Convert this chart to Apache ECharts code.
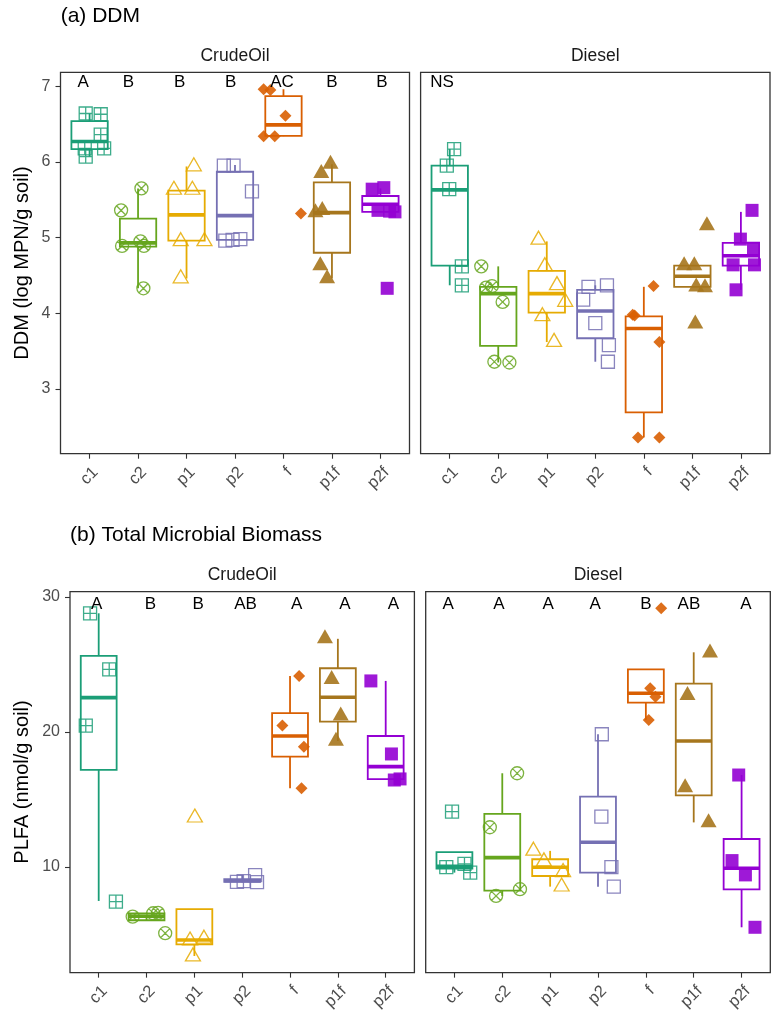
<!DOCTYPE html>
<html>
<head>
<meta charset="utf-8">
<script src="https://cdn.jsdelivr.net/npm/echarts@6/dist/echarts.min.js"></script>
<style>
html,body{margin:0;padding:0;background:#ffffff;}
#chart{width:774px;height:1013px;}
</style>
</head>
<body>
<div id="chart"></div>
<script>
// ---------------- DATA ----------------
const categories = ['c1', 'c2', 'p1', 'p2', 'f', 'p1f', 'p2f'];
const groupColors = ['#1B9E77', '#66A61E', '#E6AB02', '#7570B3', '#D95F02', '#A6761D', '#9400D3'];

const ddmTicks = [3, 4, 5, 6, 7];
const plfaTicks = [10, 20, 30];

// Box statistics per treatment: [lower whisker, Q1, median, Q3, upper whisker]
const ddmCrudeBox = [
  [6.07, 6.17, 6.27, 6.54, 6.64],
  [4.33, 4.88, 4.93, 5.25, 5.65],
  [4.46, 4.96, 5.30, 5.62, 5.94],
  [4.96, 4.97, 5.29, 5.87, 5.96],
  [6.34, 6.345, 6.49, 6.87, 6.96],
  [4.46, 4.80, 5.33, 5.73, 5.97],
  [5.34, 5.34, 5.44, 5.55, 5.65]
];
const ddmDieselBox = [
  [4.37, 4.63, 5.63, 5.95, 6.17],
  [3.35, 3.57, 4.26, 4.35, 4.62],
  [3.62, 4.01, 4.26, 4.56, 4.95],
  [3.36, 3.67, 4.03, 4.31, 4.37],
  [2.36, 2.69, 3.80, 3.96, 4.35],
  [4.35, 4.35, 4.49, 4.63, 4.63],
  [4.31, 4.63, 4.76, 4.93, 5.34]
];
const plfaCrudeBox = [
  [7.48, 17.19, 22.54, 25.63, 28.79],
  [6.32, 6.05, 6.35, 6.55, 6.60],
  [3.40, 4.27, 4.59, 6.87, 6.87],
  [8.85, 8.90, 8.98, 9.10, 9.40],
  [15.83, 18.17, 19.70, 21.39, 24.15],
  [19.33, 20.76, 22.57, 24.72, 26.90],
  [16.44, 16.50, 17.43, 19.70, 23.78]
];
const plfaDieselBox = [
  [9.58, 9.88, 10.05, 11.10, 11.10],
  [7.85, 8.24, 10.69, 13.93, 16.94],
  [8.54, 9.33, 9.98, 10.57, 11.19],
  [8.54, 9.58, 11.83, 15.21, 19.83],
  [20.89, 22.17, 22.87, 24.64, 24.64],
  [13.30, 15.30, 19.33, 23.58, 25.90],
  [5.53, 8.34, 9.90, 12.07, 16.81]
];

// Individual observations per treatment: [horizontal jitter (category units), value]
const ddmCrudePts = [
  [[-0.08, 6.64], [0.23, 6.63], [0.23, 6.36], [-0.10, 6.18], [0.30, 6.18], [-0.08, 6.07]],
  [[0.07, 5.65], [-0.35, 5.36], [-0.33, 4.89], [0.05, 4.95], [0.12, 4.89], [0.11, 4.33]],
  [[0.15, 5.94], [-0.26, 5.63], [0.12, 5.63], [-0.12, 4.95], [0.37, 4.95], [-0.12, 4.46]],
  [[-0.23, 5.95], [-0.03, 5.95], [0.35, 5.61], [-0.20, 4.96], [-0.05, 4.97], [0.11, 4.98]],
  [[-0.41, 6.96], [-0.27, 6.95], [0.04, 6.61], [-0.41, 6.34], [-0.18, 6.34], [0.36, 5.32]],
  [[-0.03, 5.97], [-0.22, 5.85], [-0.34, 5.33], [-0.20, 5.36], [-0.24, 4.63], [-0.10, 4.46]],
  [[-0.17, 5.64], [0.07, 5.66], [-0.05, 5.36], [0.19, 5.35], [0.30, 5.34], [0.14, 4.33]]
];
const ddmDieselPts = [
  [[0.09, 6.17], [-0.06, 5.95], [-0.01, 5.64], [0.25, 4.62], [0.25, 4.37]],
  [[-0.35, 4.62], [-0.13, 4.36], [-0.25, 4.34], [0.09, 4.15], [-0.08, 3.36], [0.23, 3.35]],
  [[-0.17, 4.97], [-0.04, 4.62], [0.21, 4.37], [0.38, 4.15], [-0.09, 3.96], [0.15, 3.62]],
  [[-0.14, 4.35], [0.24, 4.37], [-0.25, 4.18], [0.00, 3.87], [0.28, 3.58], [0.26, 3.36]],
  [[0.20, 4.36], [-0.23, 3.98], [-0.19, 3.97], [0.32, 3.62], [-0.12, 2.36], [0.32, 2.36]],
  [[0.30, 5.16], [-0.17, 4.63], [0.04, 4.63], [0.08, 4.35], [0.26, 4.34], [0.06, 3.86]],
  [[0.23, 5.36], [-0.01, 4.98], [0.26, 4.86], [-0.16, 4.64], [0.28, 4.64], [-0.10, 4.31]]
];
const plfaCrudePts = [
  [[-0.18, 28.79], [0.22, 24.64], [-0.27, 20.47], [0.36, 7.43]],
  [[-0.29, 6.32], [0.14, 6.57], [0.24, 6.60], [0.39, 5.09]],
  [[0.01, 13.65], [-0.09, 4.54], [0.20, 4.67], [-0.03, 3.36]],
  [[-0.11, 8.90], [0.03, 8.95], [0.27, 9.40], [0.31, 8.88]],
  [[0.19, 24.15], [-0.16, 20.47], [0.29, 18.91], [0.24, 15.83]],
  [[-0.27, 26.91], [-0.13, 23.90], [0.06, 21.19], [-0.04, 19.33]],
  [[-0.31, 23.78], [0.12, 18.37], [0.18, 16.44], [0.30, 16.52]]
];
const plfaDieselPts = [
  [[-0.05, 14.10], [-0.17, 9.98], [0.21, 10.22], [0.33, 9.58]],
  [[0.31, 16.94], [-0.26, 12.94], [-0.13, 7.85], [0.37, 8.35]],
  [[-0.35, 11.19], [-0.13, 10.40], [0.27, 9.61], [0.24, 8.54]],
  [[0.08, 19.83], [0.07, 13.73], [0.28, 9.98], [0.33, 8.54]],
  [[0.32, 29.16], [0.09, 23.24], [0.20, 22.61], [0.06, 20.89]],
  [[0.34, 25.87], [-0.13, 22.72], [-0.18, 15.87], [0.31, 13.28]],
  [[-0.06, 16.81], [-0.20, 10.47], [0.08, 9.41], [0.28, 5.53]]
];

// Significance letters and where they sit (category units / value units)
const ddmCrudeLetters = ['A', 'B', 'B', 'B', 'AC', 'B', 'B'];
const ddmCrudeLetterX = [-0.13, 0.80, 1.86, 2.91, 3.97, 5.00, 6.03];
const ddmDieselLetters = ['NS'];
const ddmDieselLetterX = [-0.16];
const plfaCrudeLetters = ['A', 'B', 'B', 'AB', 'A', 'A', 'A'];
const plfaCrudeLetterX = [-0.04, 1.08, 2.08, 3.07, 4.14, 5.15, 6.16];
const plfaDieselLetters = ['A', 'A', 'A', 'A', 'B', 'AB', 'A'];
const plfaDieselLetterX = [-0.13, 0.93, 1.96, 2.94, 4.00, 4.90, 6.09];
const ddmLetterY = 7.056;
const plfaLetterY = 29.48;

// ---------------- RENDERING ----------------
const FONT = '"Liberation Sans", Arial, Helvetica, sans-serif';
const INK = '#333333';

// point glyphs (ggplot shapes 12, 13, 2, 0, 18, 17, 15)
const TRI = 'path://M5,0L10,8.66L0,8.66Z';
const glyphs = [
  {symbol: 'path://M0,0L10,0L10,10L0,10Z M5,0L5,10 M0,5L10,5', size: [13, 13], filled: false, off: 0},
  {symbol: 'path://M10,5A5,5,0,1,1,0,5A5,5,0,1,1,10,5Z M1.46,1.46L8.54,8.54 M8.54,1.46L1.46,8.54', size: [13, 13], filled: false, off: 0},
  {symbol: TRI, size: [15, 13], filled: false, off: -13 / 6},
  {symbol: 'rect', size: [13, 13], filled: false, off: 0},
  {symbol: 'diamond', size: [12, 12], filled: true, off: 0},
  {symbol: TRI, size: [16, 14], filled: true, off: -14 / 6},
  {symbol: 'rect', size: [13, 13], filled: true, off: 0}
];

const panels = [
  {box: ddmCrudeBox, pts: ddmCrudePts, letters: ddmCrudeLetters, lx: ddmCrudeLetterX, ly: ddmLetterY,
   grid: {left: 60.5, top: 72.3, width: 349, height: 381.4}, yMin: 2.145, yMax: 7.184, ticks: ddmTicks, showY: true},
  {box: ddmDieselBox, pts: ddmDieselPts, letters: ddmDieselLetters, lx: ddmDieselLetterX, ly: ddmLetterY,
   grid: {left: 420.6, top: 72.3, width: 349.4, height: 381.4}, yMin: 2.145, yMax: 7.184, ticks: ddmTicks, showY: false},
  {box: plfaCrudeBox, pts: plfaCrudePts, letters: plfaCrudeLetters, lx: plfaCrudeLetterX, ly: plfaLetterY,
   grid: {left: 70, top: 591.7, width: 344.4, height: 381}, yMin: 2.17, yMax: 30.39, ticks: plfaTicks, showY: true},
  {box: plfaDieselBox, pts: plfaDieselPts, letters: plfaDieselLetters, lx: plfaDieselLetterX, ly: plfaLetterY,
   grid: {left: 425.7, top: 591.7, width: 344.6, height: 381}, yMin: 2.17, yMax: 30.39, ticks: plfaTicks, showY: false}
];

const catIdx = categories.map((c, i) => i);

const grids = [], xAxes = [], yAxes = [], series = [];
panels.forEach((p, gi) => {
  grids.push(Object.assign({show: true, borderColor: INK, borderWidth: 1.3, backgroundColor: 'transparent'}, p.grid));
  xAxes.push({
    type: 'value', gridIndex: gi, min: -0.6, max: 6.6, position: 'bottom',
    splitLine: {show: false}, axisLine: {show: false, onZero: false},
    axisTick: {show: true, customValues: catIdx, length: 5, lineStyle: {color: INK, width: 1.1}},
    axisLabel: {
      show: true, customValues: catIdx, formatter: v => categories[Math.round(v)],
      rotate: 45, align: 'right', verticalAlign: 'top', margin: 10,
      color: '#4D4D4D', fontSize: 16.5, fontFamily: FONT
    }
  });
  yAxes.push({
    type: 'value', gridIndex: gi, min: p.yMin, max: p.yMax, position: 'left',
    splitLine: {show: false}, axisLine: {show: false, onZero: false},
    axisTick: {show: p.showY, customValues: p.ticks, length: 5, lineStyle: {color: INK, width: 1.1}},
    axisLabel: {show: p.showY, customValues: p.ticks, margin: 10, color: '#4D4D4D', fontSize: 16, fontFamily: FONT}
  });

  // boxplots
  series.push({
    type: 'custom', xAxisIndex: gi, yAxisIndex: gi, z: 2, silent: true,
    data: p.box.map((b, i) => [i].concat(b)),
    encode: {x: 0, y: [1, 2, 3, 4, 5]},
    renderItem: function (params, api) {
      const i = api.value(0);
      const col = groupColors[i];
      const pMin = api.coord([i, api.value(1)]);
      const pQ1 = api.coord([i, api.value(2)]);
      const pMed = api.coord([i, api.value(3)]);
      const pQ3 = api.coord([i, api.value(4)]);
      const pMax = api.coord([i, api.value(5)]);
      const half = api.size([0.75, 0])[0] / 2;
      const cx = pQ3[0];
      const lw = 1.8;
      return {
        type: 'group',
        children: [
          {type: 'line', shape: {x1: cx, y1: pQ3[1], x2: cx, y2: pMax[1]}, style: {stroke: col, lineWidth: lw}},
          {type: 'line', shape: {x1: cx, y1: pQ1[1], x2: cx, y2: pMin[1]}, style: {stroke: col, lineWidth: lw}},
          {type: 'rect', shape: {x: cx - half, y: pQ3[1], width: 2 * half, height: pQ1[1] - pQ3[1]},
           style: {fill: 'rgba(255,255,255,0)', stroke: col, lineWidth: lw}},
          {type: 'line', shape: {x1: cx - half, y1: pMed[1], x2: cx + half, y2: pMed[1]}, style: {stroke: col, lineWidth: 3.6}}
        ]
      };
    }
  });

  // jittered observations
  p.pts.forEach((grp, ci) => {
    const g = glyphs[ci];
    series.push({
      type: 'scatter', xAxisIndex: gi, yAxisIndex: gi, z: 3, silent: true,
      symbol: g.symbol, symbolSize: g.size, symbolOffset: [0, g.off],
      itemStyle: g.filled
        ? {color: groupColors[ci], borderWidth: 0, opacity: 0.9}
        : {color: 'rgba(255,255,255,0)', borderColor: groupColors[ci], borderWidth: 1.3, opacity: 0.85},
      data: grp.map(d => [ci + d[0], d[1]])
    });
  });

  // letters
  series.push({
    type: 'custom', xAxisIndex: gi, yAxisIndex: gi, z: 4, silent: true,
    data: p.letters.map((t, i) => [p.lx[i], p.ly]),
    encode: {x: 0, y: 1},
    renderItem: function (params, api) {
      const pt = api.coord([api.value(0), api.value(1)]);
      return {
        type: 'text', x: pt[0], y: pt[1],
        style: {text: p.letters[params.dataIndex], align: 'center', verticalAlign: 'middle',
                fontSize: 17, fontFamily: FONT, fill: '#000000'}
      };
    }
  });
});

const texts = [
  {text: '(a) DDM', x: 60.7, y: 16.5, size: 21, align: 'left', rot: 0, color: '#000'},
  {text: '(b) Total Microbial Biomass', x: 70, y: 535, size: 21, align: 'left', rot: 0, color: '#000'},
  {text: 'CrudeOil', x: 235, y: 56, size: 17.5, align: 'center', rot: 0, color: '#1A1A1A'},
  {text: 'Diesel', x: 595.3, y: 56, size: 17.5, align: 'center', rot: 0, color: '#1A1A1A'},
  {text: 'CrudeOil', x: 242.2, y: 575, size: 17.5, align: 'center', rot: 0, color: '#1A1A1A'},
  {text: 'Diesel', x: 598, y: 575, size: 17.5, align: 'center', rot: 0, color: '#1A1A1A'},
  {text: 'DDM (log MPN/g soil)', x: 22.5, y: 263, size: 20, align: 'center', rot: Math.PI / 2, color: '#000'},
  {text: 'PLFA (nmol/g soil)', x: 22.5, y: 782, size: 20, align: 'center', rot: Math.PI / 2, color: '#000'}
];

const chart = echarts.init(document.getElementById('chart'), null, {renderer: 'canvas'});
chart.setOption({
  animation: false,
  backgroundColor: '#ffffff',
  grid: grids,
  xAxis: xAxes,
  yAxis: yAxes,
  series: series,
  graphic: texts.map(t => ({
    type: 'text', x: t.x, y: t.y, rotation: t.rot, silent: true,
    style: {text: t.text, fontSize: t.size, fontFamily: FONT, fill: t.color, align: t.align, verticalAlign: 'middle'}
  }))
});
</script>
</body>
</html>
